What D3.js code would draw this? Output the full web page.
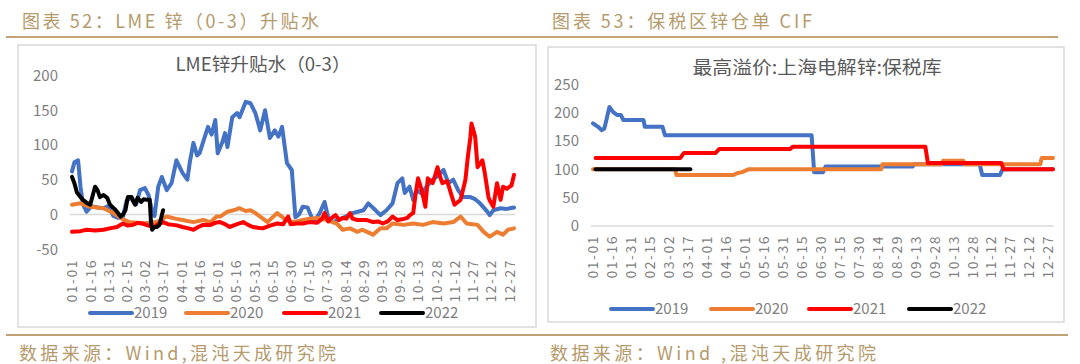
<!DOCTYPE html>
<html>
<head>
<meta charset="utf-8">
<script src="https://cdn.jsdelivr.net/npm/d3@7"></script>
<style>
body { margin: 0; background: #fff; }
#container { width: 1080px; height: 364px; }
</style>
</head>
<body>
<div id="container"></div>
<script>
// series legend
const years = ["2019", "2020", "2021", "2022"];
const colors = ["#4472C4", "#ED7D31", "#FF0000", "#000000"];

// x categories: day of year (0 = 01-01), labels every 15 days
const dateLabels = ["01-01","01-16","01-31","02-15","03-02","03-17","04-01","04-16","05-01","05-16",
  "05-31","06-15","06-30","07-15","07-30","08-14","08-29","09-13","09-28","10-13","10-28","11-12",
  "11-27","12-12","12-27"];

const lmeTicks = [-50, 0, 50, 100, 150, 200];
const bondTicks = [0, 50, 100, 150, 200, 250];

// LME zinc 0-3 spread, [day of year, USD/t]
const lme2019 = [[0,62],[2,75],[5,78],[7,40],[9,15],[12,4],[16,12],[21,10],[26,9],[30,12],[34,-2],[38,-5],[42,-3],
  [45,20],[49,25],[53,15],[56,35],[60,38],[63,28],[66,5],[68,-2],[71,40],[74,54],[78,35],[82,45],[86,78],[91,60],
  [95,50],[97,75],[100,103],[103,85],[105,88],[109,110],[112,126],[115,115],[118,136],[120,88],[124,105],[126,117],
  [128,97],[132,140],[136,146],[138,140],[143,162],[147,160],[151,146],[155,121],[159,150],[163,110],[167,121],
  [170,112],[173,126],[177,74],[181,64],[184,-4],[187,0],[190,11],[194,10],[199,-11],[204,2],[208,18],[211,-5],
  [215,-11],[223,-5],[231,2],[240,6],[244,16],[250,6],[254,-1],[259,6],[264,16],[268,45],[272,52],[274,31],[278,40],
  [281,21],[284,35],[288,30],[292,40],[297,50],[301,55],[306,64],[310,45],[314,50],[318,35],[322,25],[328,25],
  [332,22],[336,16],[342,4],[344,-1],[347,6],[353,9],[358,8],[364,10]];
const lme2020 = [[0,14],[7,16],[15,11],[26,9],[34,2],[40,-5],[47,-11],[58,-13],[70,-11],[78,-3],[85,-6],[91,-8],
  [100,-11],[108,-8],[114,-11],[119,-3],[122,-3],[128,4],[133,6],[138,9],[143,5],[147,6],[151,2],[155,-3],[161,-11],
  [169,2],[174,-5],[180,-11],[185,-10],[190,-8],[196,-6],[202,-5],[210,-8],[218,-13],[223,-22],[229,-20],[235,-25],
  [239,-22],[243,-25],[248,-29],[254,-20],[259,-20],[264,-13],[273,-15],[281,-13],[289,-15],[297,-11],[306,-13],
  [314,-11],[320,-3],[325,-13],[334,-15],[339,-25],[344,-32],[350,-25],[355,-29],[359,-22],[364,-20]];
const lme2021 = [[0,-25],[7,-24],[12,-22],[19,-23],[26,-22],[31,-20],[37,-18],[42,-13],[46,-16],[50,-15],[54,-12],
  [58,-13],[63,-16],[67,-18],[71,-14],[75,-11],[79,-14],[83,-15],[87,-16],[91,-18],[96,-20],[100,-22],[104,-18],
  [108,-15],[114,-15],[118,-12],[122,-11],[126,-14],[130,-18],[136,-14],[141,-11],[145,-15],[149,-18],[153,-19],
  [157,-20],[163,-16],[169,-13],[174,-14],[178,-3],[180,-14],[185,-13],[190,-13],[196,-11],[202,-12],[206,-6],
  [208,2],[211,-10],[213,-6],[217,-1],[220,-8],[223,-5],[226,-6],[229,2],[231,-6],[235,-8],[239,-8],[243,-8],
  [248,-11],[252,-10],[256,-13],[260,-10],[264,-3],[268,-8],[272,-7],[276,-5],[279,0],[281,2],[283,30],[285,52],
  [288,35],[291,11],[293,52],[297,45],[298,50],[301,68],[303,55],[305,45],[309,48],[313,25],[315,14],[320,21],
  [324,50],[326,83],[328,110],[329,131],[332,112],[334,68],[338,78],[340,59],[343,25],[344,20],[347,11],[350,45],
  [353,21],[355,40],[358,37],[362,42],[364,57]];
const lme2022 = [[0,54],[2,45],[4,32],[7,25],[9,21],[12,17],[15,14],[19,40],[21,35],[23,25],[26,28],[29,24],
  [31,15],[33,11],[35,8],[37,4],[40,-3],[42,0],[44,6],[46,25],[49,25],[50,20],[52,14],[54,24],[57,18],[59,22],
  [62,21],[64,21],[65,-10],[66,-22],[68,-18],[70,-18],[72,-15],[75,6]];

// bonded zinc premium (max), [day of year, USD/t]
const bond2019 = [[0,181],[4,175],[7,169],[9,172],[13,210],[16,201],[19,196],[22,196],[24,187],[40,187],[41,175],
  [55,175],[57,160],[173,160],[175,95],[182,95],[184,105],[253,105],[254,109],[306,109],[308,90],[322,90],
  [324,100],[364,100]];
const bond2020 = [[0,100],[65,100],[66,90],[111,90],[114,93],[118,95],[123,100],[228,100],[229,109],[276,109],
  [277,115],[293,115],[294,109],[354,109],[355,120],[364,120]];
const bond2021 = [[2,120],[69,120],[72,129],[97,129],[100,136],[156,136],[158,140],[263,140],[265,111],[323,111],
  [325,100],[364,100]];
const bond2022 = [[2,100],[77,100]];

const font = "'Noto Sans CJK SC', 'Microsoft YaHei', sans-serif";
const gold = "#b59a6c";

const svg = d3.create("svg")
    .attr("width", 1080)
    .attr("height", 364)
    .attr("viewBox", "0 0 1080 364")
    .style("font-family", font);

svg.append("rect").attr("width", 1080).attr("height", 364).attr("fill", "#fff");

// page header / footer
svg.append("line").attr("x1", 6).attr("x2", 1058).attr("y1", 37).attr("y2", 37)
    .attr("stroke", "#c0a274").attr("stroke-width", 2);
svg.append("line").attr("x1", 6).attr("x2", 1068).attr("y1", 335).attr("y2", 335)
    .attr("stroke", "#c0a274").attr("stroke-width", 2);

function goldText(x, y, str, len) {
    svg.append("text").attr("x", x).attr("y", y).text(str)
        .attr("fill", gold).attr("font-size", 18)
        .attr("textLength", len).attr("lengthAdjust", "spacing");
}
goldText(22, 28, "图表 52：LME 锌（0-3）升贴水", 297);
goldText(552, 28, "图表 53：保税区锌仓单 CIF", 260);
goldText(19, 360, "数据来源：Wind,混沌天成研究院", 317);
goldText(550, 360, "数据来源：Wind ,混沌天成研究院", 326);

function drawPanel(p) {
    const g = svg.append("g");
    g.append("rect").attr("x", p.frame[0]).attr("y", p.frame[1])
        .attr("width", p.frame[2] - p.frame[0]).attr("height", p.frame[3] - p.frame[1])
        .attr("fill", "#fff").attr("stroke", "#d9d9d9").attr("stroke-width", 1.5);

    const x = d3.scaleLinear().domain([0, 364]).range(p.xRange);
    const y = d3.scaleLinear().domain(p.yDomain).range(p.yRange);

    g.append("text").attr("x", p.titleX).attr("y", p.titleY).text(p.title)
        .attr("text-anchor", "middle").attr("font-size", 18).attr("fill", "#595959")
        .attr("textLength", p.titleLen).attr("lengthAdjust", "spacingAndGlyphs");

    // y axis labels
    const yAxis = g.append("g").attr("transform", `translate(${p.xRange[0] - 14},0)`)
        .call(d3.axisLeft(y).tickValues(p.ticks).tickSize(0).tickPadding(0));
    yAxis.select(".domain").remove();
    yAxis.selectAll("text").attr("font-family", font).attr("font-size", 15).attr("fill", "#7f7f7f")
        .text(d => d < 0 ? "-" + Math.abs(d) : d);

    // zero line
    g.append("line").attr("x1", p.xRange[0] - 2).attr("x2", p.xRange[1] + 1)
        .attr("y1", y(0)).attr("y2", y(0)).attr("stroke", "#d9d9d9").attr("stroke-width", 1.5);

    // x axis labels, rotated
    const xAxis = g.append("g").attr("transform", `translate(0,${p.labelTop})`)
        .call(d3.axisBottom(x).tickValues(dateLabels.map((d, i) => i * 15))
            .tickFormat((d, i) => dateLabels[i]).tickSize(0).tickPadding(0));
    xAxis.select(".domain").remove();
    xAxis.selectAll("text").attr("font-family", font).attr("font-size", 14).attr("fill", "#7f7f7f")
        .attr("transform", "rotate(-90)").attr("text-anchor", "end")
        .attr("x", 0).attr("y", 0).attr("dy", "0.35em").attr("letter-spacing", 1.5);

    const line = d3.line().x(d => x(d[0])).y(d => y(d[1]));
    g.selectAll("path.series").data(p.series).join("path")
        .attr("class", "series")
        .attr("d", d => line(d))
        .attr("fill", "none")
        .attr("stroke", (d, i) => colors[i])
        .attr("stroke-width", 4)
        .attr("stroke-linejoin", "round")
        .attr("stroke-linecap", "round");

    // legend
    const leg = g.selectAll("g.leg").data(years).join("g").attr("class", "leg")
        .attr("transform", (d, i) => `translate(${p.legendX[i]},${p.legendY})`);
    leg.append("line").attr("x1", 0).attr("x2", 42).attr("stroke", (d, i) => colors[i])
        .attr("stroke-width", 4).attr("stroke-linecap", "round");
    leg.append("text").attr("x", 44).attr("dy", "0.35em").text(d => d)
        .attr("font-size", 15).attr("fill", "#7f7f7f");
}

drawPanel({
    frame: [18, 45, 536, 327],
    xRange: [72, 514],
    yDomain: [-50, 200],
    yRange: [249.2, 75.5],
    ticks: lmeTicks,
    title: "LME锌升贴水（0-3）",
    titleX: 263, titleY: 71, titleLen: 175,
    labelTop: 259,
    series: [lme2019, lme2020, lme2021, lme2022],
    legendX: [90, 186, 284, 381],
    legendY: 313
});

drawPanel({
    frame: [548, 47, 1064, 322],
    xRange: [593, 1053],
    yDomain: [0, 250],
    yRange: [226, 84.3],
    ticks: bondTicks,
    title: "最高溢价:上海电解锌:保税库",
    titleX: 817, titleY: 74, titleLen: 249,
    labelTop: 235,
    series: [bond2019, bond2020, bond2021, bond2022],
    legendX: [611, 711, 809, 909],
    legendY: 309
});

document.getElementById("container").append(svg.node());
</script>
</body>
</html>
